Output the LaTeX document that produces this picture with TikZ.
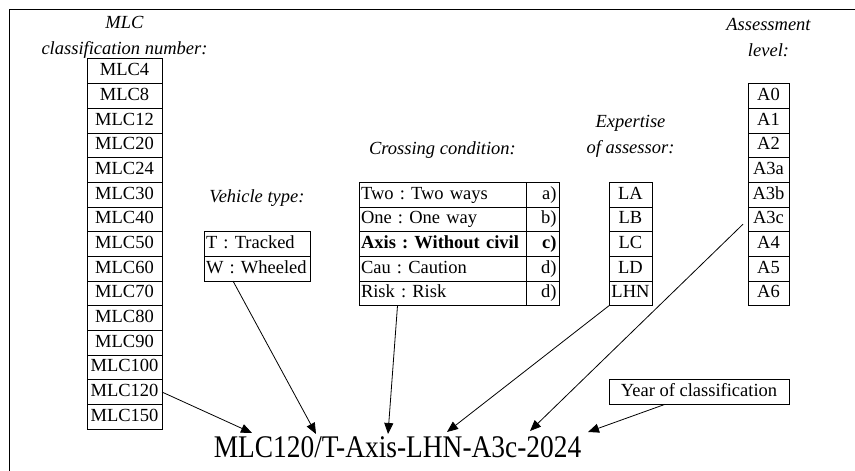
\documentclass[tikz,border=0pt]{standalone}
\usepackage{fontspec}
\setmainfont{Liberation Serif}
\usetikzlibrary{positioning,arrows.meta}

\begin{document}
\begin{tikzpicture}[
  x=1pt, y=-1pt,
  font=\fontsize{18.5}{22}\selectfont\frenchspacing,
  cell/.style={draw, line width=1pt, minimum height=24.67pt, inner sep=0pt, outer sep=0pt, text height=13pt, text depth=4pt},
  mlcbox/.style={cell, minimum width=75pt},
  lvlbox/.style={cell, minimum width=41pt},
  expbox/.style={cell, minimum width=43pt},
  vehbox/.style={cell, text width=102pt, inner xsep=2pt, align=left},
  condbox/.style={cell, text width=163pt, inner xsep=2pt, align=left},
  notebox/.style={cell, text width=28pt, inner xsep=2.5pt, align=right},
  heading/.style={font=\itshape\fontsize{18.5}{25.5}\selectfont, align=center, inner sep=0pt},
  arr/.style={-{Triangle[length=11pt, width=9pt]}, line width=0.8pt},
]
  \useasboundingbox (0,0) rectangle (855,471);
  \draw[line width=1pt] (9,471) -- (9,9) -- (855,9);

  % MLC classification numbers
  \node[mlcbox] (mlc4) at (124.5,71.33) {MLC4};
  \foreach \v [remember=\v as \prev (initially 4)] in {8,12,20,24,30,40,50,60,70,80,90,100,120,150}
    \node[mlcbox, below=0pt of mlc\prev] (mlc\v) {MLC\v};
  \node[heading, above=0.5pt of mlc4] (mlc-head) {MLC\\classification number:};

  % vehicle type
  \node[vehbox] (veh-T) at (257,244) {T : Tracked};
  \node[vehbox, below=0pt of veh-T] (veh-W) {W : Wheeled};
  \node[heading, above=25pt of veh-T] (veh-head) {Vehicle type:};

  % crossing condition
  \foreach \n/\t/\m [count=\i from 0] in {two/Two : Two ways/a), one/One : One way/b),
      axis/\textbf{Axis : Without civil}/\textbf{c)}, cau/Cau : Caution/d), risk/Risk : Risk/d)}{
    \node[condbox] (cond-\n) at (442.5,194.67+24.67*\i) {\t};
    \node[notebox, right=0pt of cond-\n] (note-\n) {\m};
  }
  \node[heading, above=24pt of cond-two] (cond-head) {Crossing condition:};

  % expertise of assessor
  \node[expbox] (exp-LA) at (630.5,194.67) {LA};
  \foreach \v [remember=\v as \prev (initially LA)] in {LB,LC,LD,LHN}
    \node[expbox, below=0pt of exp-\prev] (exp-\v) {\v};
  \node[heading, above=25pt of exp-LA] (exp-head) {Expertise\\of assessor:};

  % assessment level
  \node[lvlbox] (lvl-A0) at (768.5,96) {A0};
  \foreach \v [remember=\v as \prev (initially A0)] in {A1,A2,A3a,A3b,A3c,A4,A5,A6}
    \node[lvlbox, below=0pt of lvl-\prev] (lvl-\v) {\v};
  \node[heading, above=27pt of lvl-A0] (lvl-head) {Assessment\\level:};

  \node[cell, minimum width=180pt] (year) at (699,392) {Year of classification};

  % resulting code
  \node[anchor=base, inner sep=0pt, font=\fontsize{31.5}{34}\selectfont] (code) at (397.5,457)
    {\scalebox{0.87}[1]{MLC120/T-Axis-LHN-A3c-2024}};

  \coordinate (tip-mlc) at (252,433);
  \coordinate (tip-veh) at (316,434);
  \coordinate (tip-cond) at (388,434);
  \coordinate (tip-exp) at (447,432);
  \coordinate (tip-lvl) at (530,431);
  \coordinate (tip-year) at (588,432);

  \draw[arr] (mlc120.east) -- (tip-mlc);
  \draw[arr] ([xshift=-24pt]veh-W.south) -- (tip-veh);
  \draw[arr] ([xshift=-45pt]cond-risk.south) -- (tip-cond);
  \draw[arr] (exp-LHN.south west) -- (tip-exp);
  \draw[arr, shorten <=7pt] (lvl-A3c.west) -- (tip-lvl);
  \draw[arr] ([xshift=-34pt]year.south) -- (tip-year);
\end{tikzpicture}
\end{document}
